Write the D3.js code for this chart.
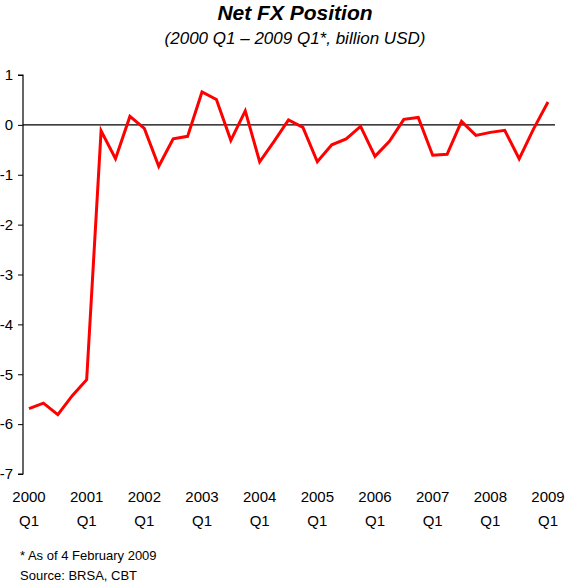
<!DOCTYPE html>
<html>
<head>
<meta charset="utf-8">
<script src="https://cdn.jsdelivr.net/npm/d3@7"></script>
<style>
  html, body { margin: 0; padding: 0; background: #fff; }
  svg { display: block; font-family: "Liberation Sans", Arial, sans-serif; }
</style>
</head>
<body>
<svg id="chart" width="568" height="584"></svg>
<script>
// Quarterly net FX position, 2000 Q1 .. 2009 Q1 (billion USD)
const quarters = [
  "2000 Q1","2000 Q2","2000 Q3","2000 Q4",
  "2001 Q1","2001 Q2","2001 Q3","2001 Q4",
  "2002 Q1","2002 Q2","2002 Q3","2002 Q4",
  "2003 Q1","2003 Q2","2003 Q3","2003 Q4",
  "2004 Q1","2004 Q2","2004 Q3","2004 Q4",
  "2005 Q1","2005 Q2","2005 Q3","2005 Q4",
  "2006 Q1","2006 Q2","2006 Q3","2006 Q4",
  "2007 Q1","2007 Q2","2007 Q3","2007 Q4",
  "2008 Q1","2008 Q2","2008 Q3","2008 Q4",
  "2009 Q1"
];
const netFx = [
  -5.69, -5.58, -5.81, -5.43,
  -5.11, -0.12, -0.68,  0.17,
  -0.07, -0.83, -0.28, -0.23,
   0.66,  0.51, -0.31,  0.28,
  -0.74, -0.33,  0.10, -0.05,
  -0.74, -0.40, -0.28, -0.03,
  -0.63, -0.33,  0.11,  0.15,
  -0.61, -0.59,  0.07, -0.21,
  -0.15, -0.11, -0.68, -0.08,
   0.46
];
const yTicks = [1, 0, -1, -2, -3, -4, -5, -6, -7];
const xLabelYears = ["2000","2001","2002","2003","2004","2005","2006","2007","2008","2009"];
const xLabelQuarter = "Q1";

const svg = d3.select("#chart");

const x = d3.scalePoint().domain(quarters).range([29, 548]);
const y = d3.scaleLinear().domain([-7, 1]).range([474, 75]);

// Titles
svg.append("text")
  .attr("x", 295).attr("y", 20)
  .attr("text-anchor", "middle")
  .style("font-size", "21px").style("font-weight", "bold").style("font-style", "italic")
  .text("Net FX Position");
svg.append("text")
  .attr("x", 295).attr("y", 44)
  .attr("text-anchor", "middle")
  .style("font-size", "17px").style("font-style", "italic")
  .text("(2000 Q1 \u2013 2009 Q1*, billion USD)");

// Y axis
const yAxis = d3.axisLeft(y)
  .tickValues(yTicks)
  .tickSize(5)
  .tickPadding(5)
  .tickFormat(d => d < 0 ? "-" + Math.abs(d) : String(d));
const gy = svg.append("g").attr("transform", "translate(23,0)").call(yAxis);
gy.select(".domain").attr("stroke", "#000").attr("stroke-width", 1.2).attr("d", `M-5,${y(1)}H0V${y(-7)}H-5`);
gy.selectAll(".tick line").attr("stroke", "#000");
gy.selectAll(".tick text").style("font-size", "15px").attr("fill", "#000").attr("font-family", "Liberation Sans, Arial, sans-serif");

// Zero line
svg.append("line")
  .attr("x1", 23).attr("x2", 555)
  .attr("y1", y(0)).attr("y2", y(0))
  .attr("stroke", "#000").attr("stroke-width", 1.2);

// X labels (year + Q1 under each first quarter)
const xLab = svg.append("g").style("font-size", "15px").attr("text-anchor", "middle");
xLabelYears.forEach(yr => {
  const cx = x(yr + " " + xLabelQuarter);
  xLab.append("text").attr("x", cx).attr("y", 502).text(yr);
  xLab.append("text").attr("x", cx).attr("y", 526).text(xLabelQuarter);
});

// Series line
const line = d3.line()
  .x((d, i) => x(quarters[i]))
  .y(d => y(d));
svg.append("path")
  .datum(netFx)
  .attr("d", line)
  .attr("fill", "none")
  .attr("stroke", "#ff0000")
  .attr("stroke-width", 3)
  .attr("stroke-linejoin", "miter");

// Footnotes
svg.append("text").attr("x", 20).attr("y", 560).style("font-size", "13px")
  .text("* As of 4 February 2009");
svg.append("text").attr("x", 20).attr("y", 580).style("font-size", "13px")
  .text("Source: BRSA, CBT");
</script>
</body>
</html>
